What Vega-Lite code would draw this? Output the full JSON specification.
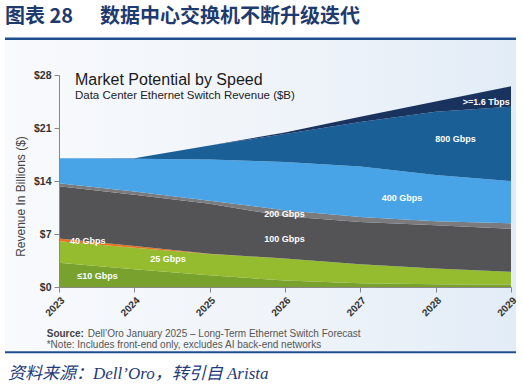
{
  "$schema": "https://vega.github.io/schema/vega-lite/v6.json",
  "width": 452,
  "height": 212,
  "autosize": {"type": "none"},
  "padding": {"left": 59, "top": 75, "right": 12, "bottom": 101},
  "background": "white",
  "config": {"view": {"stroke": null}, "font": "Liberation Sans"},
  "datasets": {
    "revenue": [
      {"year": 2023, "speed": "≤10 Gbps", "rank": 1, "rev": 3.2},
      {"year": 2024, "speed": "≤10 Gbps", "rank": 1, "rev": 2.35},
      {"year": 2025, "speed": "≤10 Gbps", "rank": 1, "rev": 1.55},
      {"year": 2026, "speed": "≤10 Gbps", "rank": 1, "rev": 0.85},
      {"year": 2027, "speed": "≤10 Gbps", "rank": 1, "rev": 0.5},
      {"year": 2028, "speed": "≤10 Gbps", "rank": 1, "rev": 0.35},
      {"year": 2029, "speed": "≤10 Gbps", "rank": 1, "rev": 0.3},
      {"year": 2023, "speed": "25 Gbps", "rank": 2, "rev": 2.85},
      {"year": 2024, "speed": "25 Gbps", "rank": 2, "rev": 2.85},
      {"year": 2025, "speed": "25 Gbps", "rank": 2, "rev": 2.8},
      {"year": 2026, "speed": "25 Gbps", "rank": 2, "rev": 2.9},
      {"year": 2027, "speed": "25 Gbps", "rank": 2, "rev": 2.5},
      {"year": 2028, "speed": "25 Gbps", "rank": 2, "rev": 2.08},
      {"year": 2029, "speed": "25 Gbps", "rank": 2, "rev": 1.7},
      {"year": 2023, "speed": "40 Gbps", "rank": 3, "rev": 0.35},
      {"year": 2024, "speed": "40 Gbps", "rank": 3, "rev": 0.2},
      {"year": 2025, "speed": "40 Gbps", "rank": 3, "rev": 0.05},
      {"year": 2026, "speed": "40 Gbps", "rank": 3, "rev": 0},
      {"year": 2027, "speed": "40 Gbps", "rank": 3, "rev": 0},
      {"year": 2028, "speed": "40 Gbps", "rank": 3, "rev": 0},
      {"year": 2029, "speed": "40 Gbps", "rank": 3, "rev": 0},
      {"year": 2023, "speed": "100 Gbps", "rank": 4, "rev": 6.9},
      {"year": 2024, "speed": "100 Gbps", "rank": 4, "rev": 6.8},
      {"year": 2025, "speed": "100 Gbps", "rank": 4, "rev": 6.6},
      {"year": 2026, "speed": "100 Gbps", "rank": 4, "rev": 5.6},
      {"year": 2027, "speed": "100 Gbps", "rank": 4, "rev": 5.6},
      {"year": 2028, "speed": "100 Gbps", "rank": 4, "rev": 5.72},
      {"year": 2029, "speed": "100 Gbps", "rank": 4, "rev": 5.7},
      {"year": 2023, "speed": "200 Gbps", "rank": 5, "rev": 0.4},
      {"year": 2024, "speed": "200 Gbps", "rank": 5, "rev": 0.4},
      {"year": 2025, "speed": "200 Gbps", "rank": 5, "rev": 0.4},
      {"year": 2026, "speed": "200 Gbps", "rank": 5, "rev": 0.8},
      {"year": 2027, "speed": "200 Gbps", "rank": 5, "rev": 0.66},
      {"year": 2028, "speed": "200 Gbps", "rank": 5, "rev": 0.55},
      {"year": 2029, "speed": "200 Gbps", "rank": 5, "rev": 0.7},
      {"year": 2023, "speed": "400 Gbps", "rank": 6, "rev": 3.3},
      {"year": 2024, "speed": "400 Gbps", "rank": 6, "rev": 4.35},
      {"year": 2025, "speed": "400 Gbps", "rank": 6, "rev": 5.45},
      {"year": 2026, "speed": "400 Gbps", "rank": 6, "rev": 6.35},
      {"year": 2027, "speed": "400 Gbps", "rank": 6, "rev": 6.64},
      {"year": 2028, "speed": "400 Gbps", "rank": 6, "rev": 6.1},
      {"year": 2029, "speed": "400 Gbps", "rank": 6, "rev": 5.6},
      {"year": 2023, "speed": "800 Gbps", "rank": 7, "rev": 0},
      {"year": 2024, "speed": "800 Gbps", "rank": 7, "rev": 0.05},
      {"year": 2025, "speed": "800 Gbps", "rank": 7, "rev": 1.85},
      {"year": 2026, "speed": "800 Gbps", "rank": 7, "rev": 3.7},
      {"year": 2027, "speed": "800 Gbps", "rank": 7, "rev": 5.9},
      {"year": 2028, "speed": "800 Gbps", "rank": 7, "rev": 8.35},
      {"year": 2029, "speed": "800 Gbps", "rank": 7, "rev": 9.8},
      {"year": 2023, "speed": ">=1.6 Tbps", "rank": 8, "rev": 0},
      {"year": 2024, "speed": ">=1.6 Tbps", "rank": 8, "rev": 0},
      {"year": 2025, "speed": ">=1.6 Tbps", "rank": 8, "rev": 0},
      {"year": 2026, "speed": ">=1.6 Tbps", "rank": 8, "rev": 0.2},
      {"year": 2027, "speed": ">=1.6 Tbps", "rank": 8, "rev": 0.7},
      {"year": 2028, "speed": ">=1.6 Tbps", "rank": 8, "rev": 1.35},
      {"year": 2029, "speed": ">=1.6 Tbps", "rank": 8, "rev": 2.7}
    ],
    "labels": [
      {"x": 2023.381, "y": 6.12, "label": "40 Gbps"},
      {"x": 2024.447, "y": 3.66, "label": "25 Gbps"},
      {"x": 2023.511, "y": 1.45, "label": "≤10 Gbps"},
      {"x": 2025.993, "y": 6.34, "label": "100 Gbps"},
      {"x": 2025.993, "y": 9.64, "label": "200 Gbps"},
      {"x": 2027.553, "y": 11.8, "label": "400 Gbps"},
      {"x": 2028.263, "y": 19.55, "label": "800 Gbps"},
      {"x": 2028.672, "y": 24.47, "label": ">=1.6 Tbps"}
    ],
    "one": [{}]
  },
  "layer": [
    {
      "data": {"name": "one"},
      "mark": {"type": "rect", "color": {"gradient": "linear", "x1": 0, "y1": 0, "x2": 1, "y2": 0, "stops": [{"offset": 0, "color": "#f8fafd"}, {"offset": 0.6, "color": "#eef3f9"}, {"offset": 1, "color": "#e2ecf7"}]}},
      "encoding": {
        "x": {"datum": 2022.283, "type": "quantitative"},
        "x2": {"datum": 2029.067},
        "y": {"datum": 32.62, "type": "quantitative"},
        "y2": {"datum": -8.45}
      }
    },
    {
      "data": {"name": "one"},
      "mark": {"type": "rule", "color": "#1f4e8f", "strokeWidth": 2.5},
      "encoding": {
        "x": {"datum": 2022.283, "type": "quantitative"},
        "x2": {"datum": 2029.067},
        "y": {"datum": 32.8, "type": "quantitative"}
      }
    },
    {
      "data": {"name": "one"},
      "mark": {"type": "rule", "color": "#1f4e8f", "strokeWidth": 2},
      "encoding": {
        "x": {"datum": 2022.283, "type": "quantitative"},
        "x2": {"datum": 2029.067},
        "y": {"datum": -8.62, "type": "quantitative"}
      }
    },
    {
      "data": {"name": "revenue"},
      "mark": {"type": "area", "interpolate": "linear"},
      "encoding": {
        "x": {
          "field": "year", "type": "quantitative",
          "scale": {"domain": [2023, 2029], "nice": false, "zero": false},
          "axis": {
            "values": [2023, 2024, 2025, 2026, 2027, 2028, 2029], "zindex": 2,
            "format": "d", "labelAngle": -45, "labelFontWeight": "bold", "labelFontSize": 10,
            "labelColor": "#333", "grid": false, "title": null, "domainColor": "#888", "tickColor": "#888",
            "tickSize": 5, "labelPadding": 3
          }
        },
        "y": {
          "aggregate": "sum", "field": "rev", "type": "quantitative", "stack": "zero",
          "scale": {"domain": [0, 28], "nice": false},
          "axis": {
            "values": [0, 7, 14, 21, 28], "format": "$d", "labelFontWeight": "bold", "labelFontSize": 10.5, "zindex": 2,
            "labelColor": "#333", "grid": false, "title": "Revenue In Billions ($)", "titleFontSize": 12,
            "titleFontWeight": "normal", "titleColor": "#444", "titlePadding": 6, "titleY": 121,
            "domainColor": "#888", "tickColor": "#888", "tickSize": 5, "labelPadding": 3
          }
        },
        "color": {
          "field": "speed", "type": "nominal", "legend": null,
          "scale": {
            "domain": ["≤10 Gbps", "25 Gbps", "40 Gbps", "100 Gbps", "200 Gbps", "400 Gbps", "800 Gbps", ">=1.6 Tbps"],
            "range": ["#78a12e", "#95bb2e", "#e8731e", "#545457", "#7b7b7d", "#48a4e6", "#1b5f97", "#1a335e"]
          }
        },
        "order": {"field": "rank", "type": "quantitative", "sort": "ascending"}
      }
    },
    {
      "data": {"name": "labels"},
      "mark": {"type": "text", "color": "white", "fontWeight": "bold", "fontSize": 9, "align": "center", "baseline": "middle"},
      "encoding": {
        "x": {"field": "x", "type": "quantitative"},
        "y": {"field": "y", "type": "quantitative"},
        "text": {"field": "label"}
      }
    },
    {
      "data": {"values": [{"x": 2022.283, "y": 35.6, "t": "图表 28"}, {"x": 2023.544, "y": 35.6, "t": "数据中心交换机不断升级迭代"}]},
      "mark": {"type": "text", "font": "Noto Sans CJK SC", "fontWeight": "bold", "fontSize": 20, "color": "#1f3a6e", "align": "left", "baseline": "middle"},
      "encoding": {"x": {"field": "x", "type": "quantitative"}, "y": {"field": "y", "type": "quantitative"}, "text": {"field": "t"}}
    },
    {
      "data": {"values": [{"x": 2023.212, "y": 26.68, "t": "Market Potential by Speed"}]},
      "mark": {"type": "text", "fontSize": 16, "color": "#1a1a1a", "align": "left", "baseline": "alphabetic"},
      "encoding": {"x": {"field": "x", "type": "quantitative"}, "y": {"field": "y", "type": "quantitative"}, "text": {"field": "t"}}
    },
    {
      "data": {"values": [{"x": 2023.212, "y": 24.79, "t": "Data Center Ethernet Switch Revenue ($B)"}]},
      "mark": {"type": "text", "fontSize": 11.5, "color": "#222", "align": "left", "baseline": "alphabetic"},
      "encoding": {"x": {"field": "x", "type": "quantitative"}, "y": {"field": "y", "type": "quantitative"}, "text": {"field": "t"}}
    },
    {
      "data": {"values": [{"x": 2022.837, "y": -6.21, "t": "Source:"}]},
      "mark": {"type": "text", "fontSize": 10, "fontWeight": "bold", "color": "#444", "align": "left", "baseline": "middle"},
      "encoding": {"x": {"field": "x", "type": "quantitative"}, "y": {"field": "y", "type": "quantitative"}, "text": {"field": "t"}}
    },
    {
      "data": {"values": [{"x": 2023.381, "y": -6.21, "t": "Dell’Oro January 2025 – Long-Term Ethernet Switch Forecast"}, {"x": 2022.837, "y": -7.66, "t": "*Note: Includes front-end only, excludes AI back-end networks"}]},
      "mark": {"type": "text", "fontSize": 10, "color": "#555", "align": "left", "baseline": "middle"},
      "encoding": {"x": {"field": "x", "type": "quantitative"}, "y": {"field": "y", "type": "quantitative"}, "text": {"field": "t"}}
    },
    {
      "data": {"values": [{"x": 2022.323, "y": -11.43, "t": "资料来源：Dell’Oro，转引自 Arista"}]},
      "mark": {"type": "text", "font": "Liberation Serif, Noto Sans CJK SC", "fontStyle": "italic", "fontSize": 17, "color": "#1f3a7a", "align": "left", "baseline": "middle"},
      "encoding": {"x": {"field": "x", "type": "quantitative"}, "y": {"field": "y", "type": "quantitative"}, "text": {"field": "t"}}
    }
  ]
}
